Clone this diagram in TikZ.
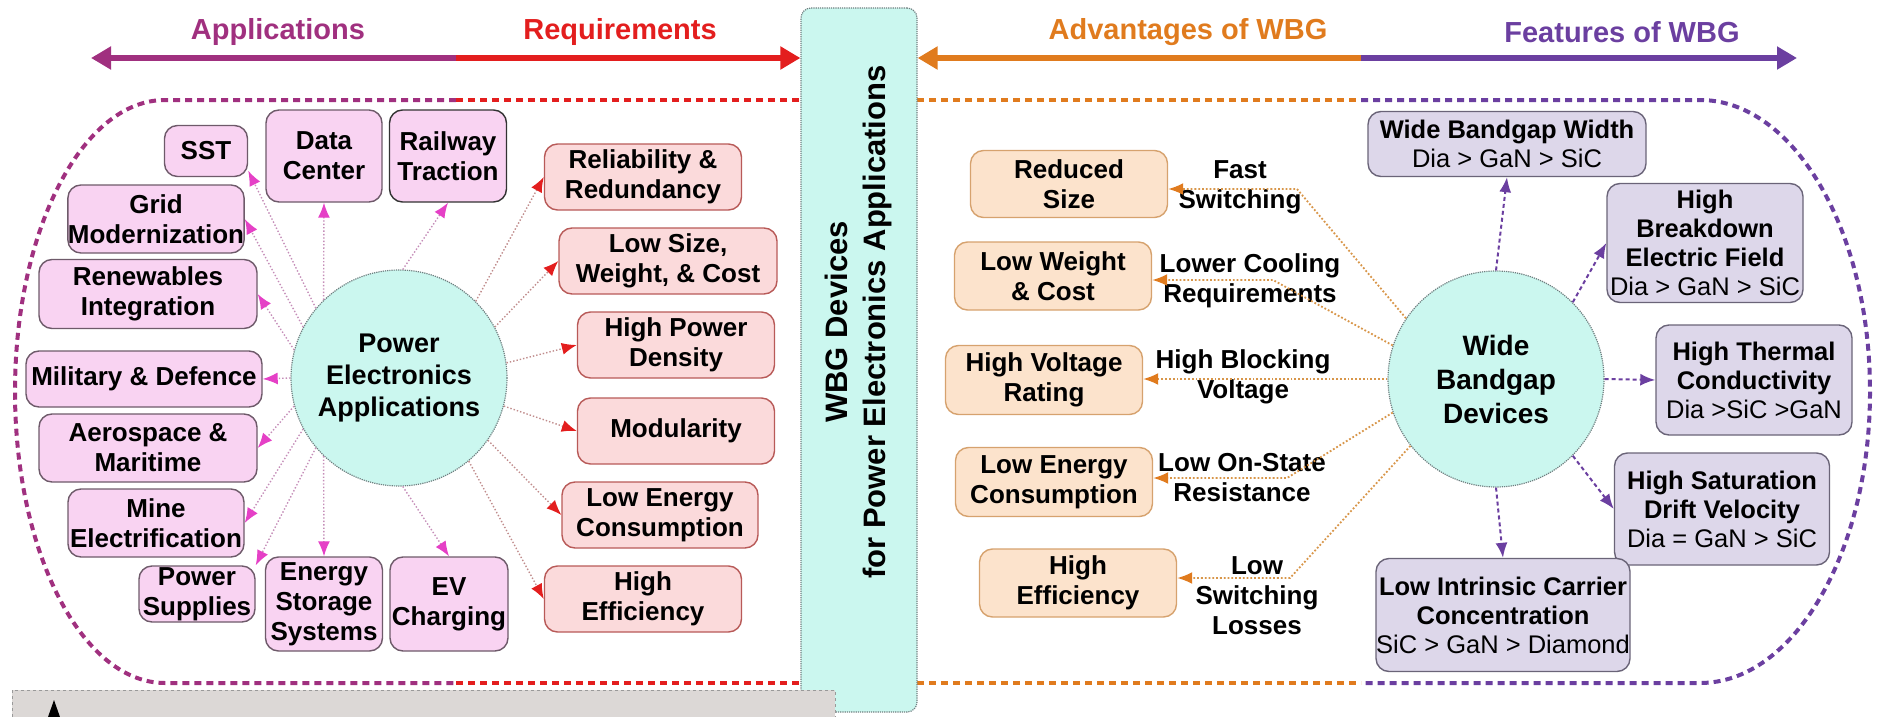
\documentclass[tikz,border=0pt]{standalone}
\usepackage{fontspec}
\setmainfont{Liberation Sans}
\usetikzlibrary{arrows.meta,calc}
\definecolor{appPurple}{HTML}{A0307F}
\definecolor{reqRed}{HTML}{E31E1E}
\definecolor{advOrange}{HTML}{E07B1E}
\definecolor{featPurple}{HTML}{6B3FA0}
\definecolor{appFill}{HTML}{F9D3F2}
\definecolor{appBorder}{HTML}{6E5A6A}
\definecolor{reqFill}{HTML}{FBDADB}
\definecolor{reqBorder}{HTML}{B85A58}
\definecolor{advFill}{HTML}{FCE3CC}
\definecolor{advBorder}{HTML}{D6A26E}
\definecolor{featFill}{HTML}{DDD7EA}
\definecolor{featBorder}{HTML}{6A6478}
\definecolor{cyanFill}{HTML}{CBF7EF}
\definecolor{hubBorder}{HTML}{6F7F80}
\definecolor{grayFill}{HTML}{DCD8D6}
\definecolor{magArrow}{HTML}{E540C6}
\definecolor{appLine}{HTML}{C58DB8}
\definecolor{reqLine}{HTML}{C08C8C}
\definecolor{advLine}{HTML}{D8964A}
\begin{document}
\begin{tikzpicture}[x=1pt,y=-1pt,
  bx/.style={rounded corners=13pt, line width=1.4pt, align=center, inner sep=0pt, font=\bfseries\fontsize{26}{30}\selectfont},
  appbox/.style={bx, draw=appBorder, fill=appFill},
  reqbox/.style={bx, draw=reqBorder, fill=reqFill},
  advbox/.style={bx, draw=advBorder, fill=advFill},
  featbox/.style={bx, draw=featBorder, fill=featFill, font=\bfseries\fontsize{25.5}{29}\selectfont},
  hub/.style={circle, draw=hubBorder, densely dotted, line width=1.2pt, fill=cyanFill, inner sep=0pt, align=center},
  lbl/.style={align=center, font=\bfseries\fontsize{26}{30}\selectfont},
  hdr/.style={font=\bfseries\fontsize{29}{33}\selectfont},
  hdrline/.style={line width=6pt},
  outl/.style={line width=4pt, dash pattern=on 7pt off 5pt},
  appln/.style={draw=appLine, dotted, line width=1.4pt, -{Latex[length=15pt,width=12pt,color=magArrow]}},
  reqln/.style={draw=reqLine, dotted, line width=1.4pt, -{Latex[length=15pt,width=12pt,color=reqRed]}},
  advln/.style={draw=advLine, dotted, line width=1.8pt, -{Latex[length=15pt,width=12pt,color=advOrange]}},
  featln/.style={draw=featPurple, dash pattern=on 4pt off 3pt, line width=2pt, -{Latex[length=15pt,width=12pt,color=featPurple]}}
]
\useasboundingbox (0,0) rectangle (1879,717);

% big outline
\draw[appPurple, outl] (456,100) -- (165,100) arc[start angle=270, end angle=90, x radius=150, y radius=291.5] -- (456,683);
\draw[reqRed, outl] (456,100) -- (800,100);
\draw[reqRed, outl] (456,683) -- (800,683);
\draw[advOrange, outl] (917,100) -- (1361,100);
\draw[advOrange, outl] (917,683) -- (1361,683);
\draw[featPurple, outl] (1361,100) -- (1700,100) arc[start angle=-90, end angle=90, x radius=170, y radius=291.5] -- (1361,683);

% centre box
\node[draw=hubBorder, densely dotted, line width=1.2pt, fill=cyanFill, rounded corners=10pt, minimum width=116pt, minimum height=704pt, inner sep=0pt] (wbgbox) at (859,360) {};
\node[rotate=90, align=center, font=\bfseries\fontsize{31}{38}\selectfont] (wbgtxt) at (858,322) {WBG Devices\\for Power Electronics Applications};

% header
\node[hdr, text=appPurple] (happ) at (278,32) {Applications};
\node[hdr, text=reqRed] (hreq) at (620,32) {Requirements};
\node[hdr, text=advOrange] (hadv) at (1188,32) {Advantages of WBG};
\node[hdr, text=featPurple] (hfeat) at (1622,32) {Features of WBG};
\coordinate (hL) at (91,58);
\coordinate (hA) at (456,58);
\coordinate (hB) at (1361,58);
\coordinate (hR) at (1797,58);
\draw[appPurple, hdrline, {Triangle[length=20pt,width=22pt]}-] (hL) -- (hA);
\draw[reqRed, hdrline, -{Triangle[length=20pt,width=22pt]}] (hA) -- (hA -| wbgbox.west);
\draw[advOrange, hdrline, {Triangle[length=20pt,width=22pt]}-] (hA -| wbgbox.east) -- (hB);
\draw[featPurple, hdrline, -{Triangle[length=20pt,width=22pt]}] (hB) -- (hR);

% circles
\node[hub, minimum size=216pt, font=\bfseries\fontsize{27}{32}\selectfont] (pea) at (399,378) {Power\\Electronics\\Applications};
\node[hub, minimum size=216pt, font=\bfseries\fontsize{28}{34}\selectfont] (wbg) at (1496,379) {Wide\\Bandgap\\Devices};

% application boxes
\node[appbox, minimum width=83pt, minimum height=51pt] (sst) at (206,151) {SST};
\node[appbox, minimum width=116pt, minimum height=92pt] (dc) at (324,156) {Data\\Center};
\node[appbox, draw=black!80, minimum width=117pt, minimum height=92pt] (rail) at (448,156) {Railway\\Traction};
\node[appbox, minimum width=176pt, minimum height=68pt] (grid) at (156,219) {Grid\\Modernization};
\node[appbox, minimum width=218pt, minimum height=69pt] (ren) at (148,294) {Renewables\\Integration};
\node[appbox, minimum width=236pt, minimum height=56pt] (mil) at (144,379) {Military \& Defence};
\node[appbox, minimum width=218pt, minimum height=68pt] (aero) at (148,448) {Aerospace \&\\Maritime};
\node[appbox, minimum width=176pt, minimum height=68pt] (mine) at (156,523) {Mine\\Electrification};
\node[appbox, minimum width=116pt, minimum height=56pt] (ps) at (197,594) {Power\\Supplies};
\node[appbox, minimum width=117pt, minimum height=94pt] (es) at (324,604) {Energy\\Storage\\Systems};
\node[appbox, minimum width=118pt, minimum height=94pt] (ev) at (449,604) {EV\\Charging};

% requirement boxes
\node[reqbox, minimum width=197pt, minimum height=66pt] (rel) at (643,177) {Reliability \&\\Redundancy};
\node[reqbox, minimum width=218pt, minimum height=66pt] (lsw) at (668,261) {Low Size,\\Weight, \& Cost};
\node[reqbox, minimum width=197pt, minimum height=66pt] (hpd) at (676,345) {High Power\\Density};
\node[reqbox, minimum width=197pt, minimum height=66pt] (modu) at (676,431) {Modularity};
\node[reqbox, minimum width=196pt, minimum height=66pt] (lec) at (660,515) {Low Energy\\Consumption};
\node[reqbox, minimum width=197pt, minimum height=66pt] (heff) at (643,599) {High\\Efficiency};

% advantage boxes
\node[advbox, minimum width=197pt, minimum height=67pt] (rsz) at (1069,184) {Reduced\\Size};
\node[advbox, minimum width=197pt, minimum height=68pt] (lwc) at (1053,276) {Low Weight\\\& Cost};
\node[advbox, minimum width=197pt, minimum height=69pt] (hvr) at (1044,380) {High Voltage\\Rating};
\node[advbox, minimum width=197pt, minimum height=69pt] (lec2) at (1054,482) {Low Energy\\Consumption};
\node[advbox, minimum width=197pt, minimum height=68pt] (hef2) at (1078,583) {High\\Efficiency};

% edge labels
\node[lbl] (lfs) at (1240,187) {Fast\\Switching};
\node[lbl] (llc) at (1250,281) {Lower Cooling\\Requirements};
\node[lbl] (lhb) at (1243,377) {High Blocking\\Voltage};
\node[lbl] (los) at (1242,478) {Low On-State\\Resistance};
\node[lbl] (lsl) at (1257,596) {Low\\Switching\\Losses};

% feature boxes
\node[featbox, minimum width=278pt, minimum height=65pt] (wbw) at (1507,144) {Wide Bandgap Width\\{\mdseries Dia > GaN > SiC}};
\node[featbox, minimum width=196pt, minimum height=119pt] (hbef) at (1705,243) {High\\Breakdown\\Electric Field\\{\mdseries Dia > GaN > SiC}};
\node[featbox, minimum width=196pt, minimum height=110pt] (htc) at (1754,380) {High Thermal\\Conductivity\\{\mdseries Dia >SiC >GaN}};
\node[featbox, minimum width=215pt, minimum height=112pt] (hsdv) at (1722,509) {High Saturation\\Drift Velocity\\{\mdseries Dia = GaN > SiC}};
\node[featbox, minimum width=254pt, minimum height=113pt] (licc) at (1503,615) {Low Intrinsic Carrier\\Concentration\\{\mdseries SiC > GaN > Diamond}};

% application connectors
\draw[appln] (pea.140) -- (sst.-25);
\draw[appln] (pea.134) -- (dc.south);
\draw[appln] (pea.88) -- (rail.south);
\draw[appln] (pea.152) -- (grid.east);
\draw[appln] (pea.165) -- (ren.east);
\draw[appln] (pea.180) -- (mil.east);
\draw[appln] (pea.195) -- (aero.east);
\draw[appln] (pea.208) -- (mine.east);
\draw[appln] (pea.220) -- (ps.north east);
\draw[appln] (pea.226) -- (es.north);
\draw[appln] (pea.272) -- (ev.north);

% requirement connectors
\draw[reqln] (pea.45) -- (rel.west);
\draw[reqln] (pea.28) -- (lsw.west);
\draw[reqln] (pea.8) -- (hpd.west);
\draw[reqln] (pea.-15) -- (modu.west);
\draw[reqln] (pea.-35) -- (lec.west);
\draw[reqln] (pea.-50) -- (heff.west);

% advantage connectors
\coordinate (k1) at (1297,189);
\coordinate (k2) at (1273,280);
\coordinate (k4) at (1287,478);
\coordinate (k5) at (1290,578);
\draw[advln] (wbg.146) -- (k1) -- (k1 -| rsz.east);
\draw[advln] (wbg.162) -- (k2) -- (k2 -| lwc.east);
\draw[advln] (wbg.180) -- (wbg.180 -| hvr.east);
\draw[advln] (wbg.198) -- (k4) -- (k4 -| lec2.east);
\draw[advln] (wbg.218) -- (k5) -- (k5 -| hef2.east);

% feature connectors
\draw[featln] (wbg.90) -- (wbw.south);
\draw[featln] (wbg.45) -- (hbef.west);
\draw[featln] (wbg.0) -- (htc.west);
\draw[featln] (wbg.-45) -- (hsdv.west);
\draw[featln] (wbg.-90) -- (licc.north);

% bottom grey panel
\draw[draw=gray!80, dashed, line width=1pt, fill=grayFill] (12,690) rectangle (835,725);
\fill[black] (54,700) -- (48,717) -- (60,717) -- cycle;
\end{tikzpicture}
\end{document}
